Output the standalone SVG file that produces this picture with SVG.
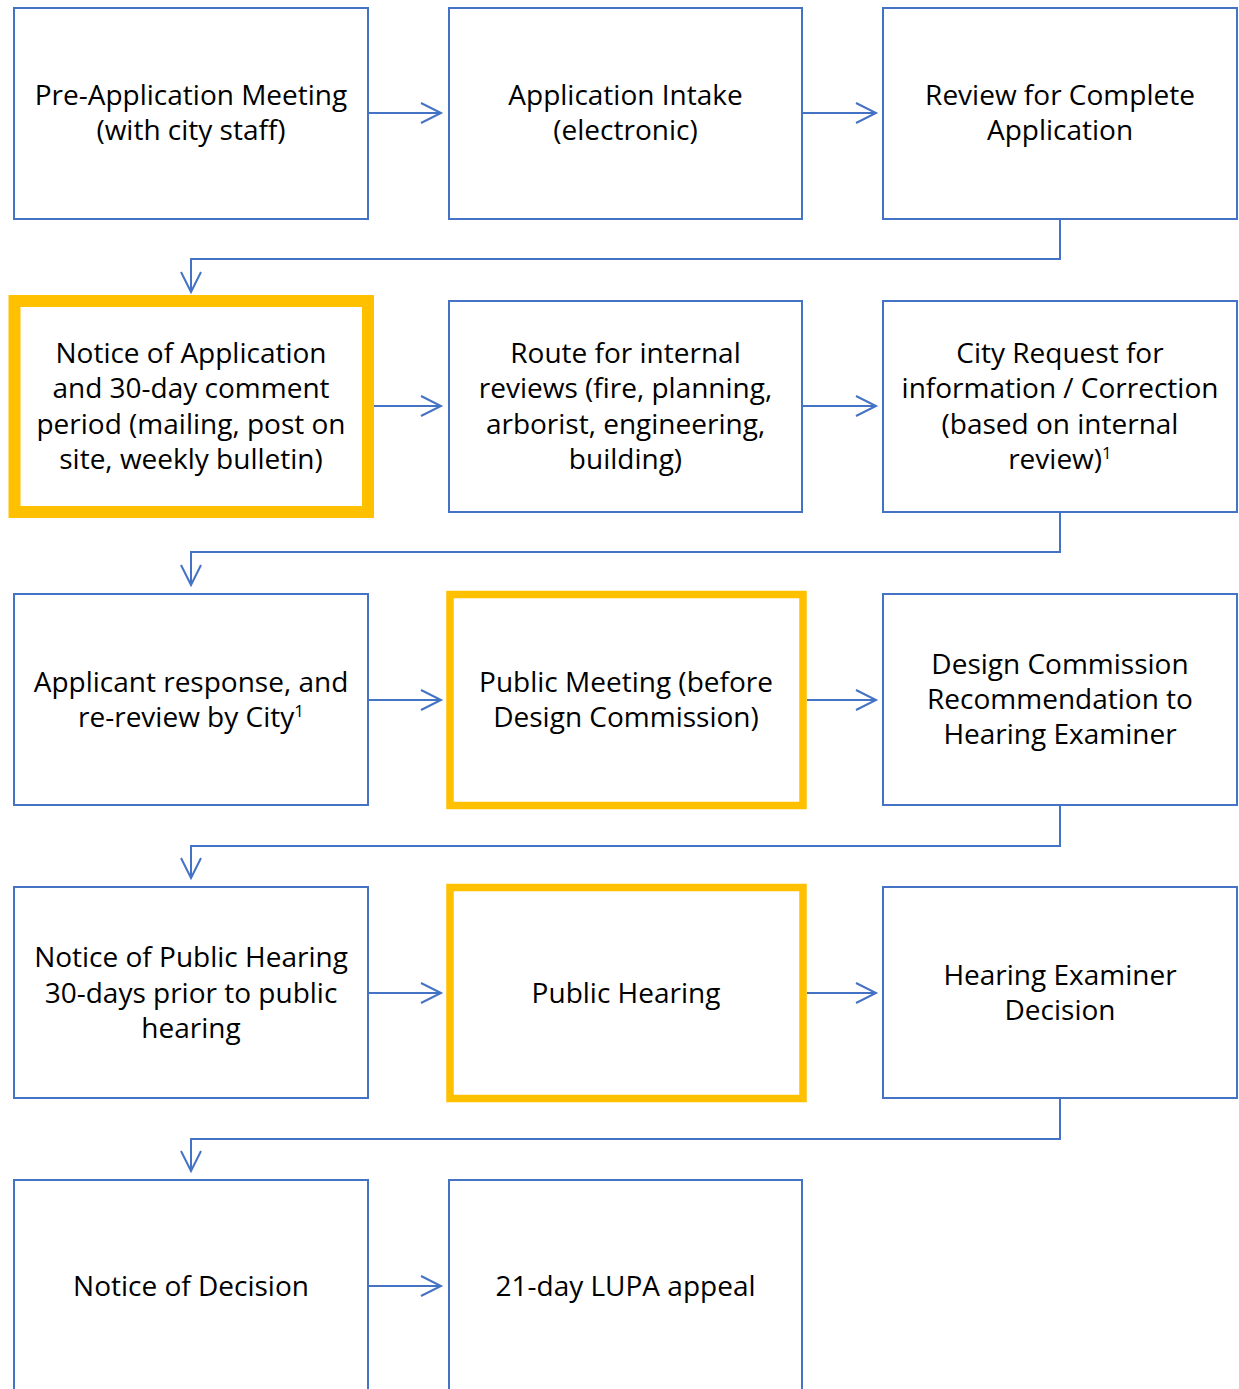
<svg xmlns="http://www.w3.org/2000/svg" width="1239" height="1389" viewBox="0 0 1239 1389">
<style>
.box{fill:#fff;stroke:#4472C4;stroke-width:2}
.hl{fill:#fff;stroke:#FFC000;stroke-width:12}
.hl2{fill:#fff;stroke:#FFC000;stroke-width:7.5}
.conn{fill:none;stroke:#4472C4;stroke-width:2}
text{font-family:"Open Sans","Noto Sans",sans-serif;font-size:28px;fill:#000;text-anchor:middle}
.sup{font-size:17px}
</style>
<defs>
<marker id="ah" viewBox="0 0 20 20" refX="20" refY="10" markerWidth="20" markerHeight="20" markerUnits="userSpaceOnUse" orient="auto" overflow="visible">
<path d="M0,0 L20,10 L0,20" fill="none" stroke="#4472C4" stroke-width="2"/>
</marker>
</defs>
<g id="connectors">
<line class="conn" x1="369" y1="113" x2="441" y2="113" marker-end="url(#ah)"/>
<line class="conn" x1="803" y1="113" x2="876" y2="113" marker-end="url(#ah)"/>
<polyline class="conn" points="1060,220 1060,259 191,259 191,292" marker-end="url(#ah)"/>
<line class="conn" x1="374" y1="406" x2="441" y2="406" marker-end="url(#ah)"/>
<line class="conn" x1="803" y1="406" x2="876" y2="406" marker-end="url(#ah)"/>
<polyline class="conn" points="1060,513 1060,552 191,552 191,585" marker-end="url(#ah)"/>
<line class="conn" x1="369" y1="700" x2="441" y2="700" marker-end="url(#ah)"/>
<line class="conn" x1="807" y1="700" x2="876" y2="700" marker-end="url(#ah)"/>
<polyline class="conn" points="1060,806 1060,846 191,846 191,878" marker-end="url(#ah)"/>
<line class="conn" x1="369" y1="993" x2="441" y2="993" marker-end="url(#ah)"/>
<line class="conn" x1="807" y1="993" x2="876" y2="993" marker-end="url(#ah)"/>
<polyline class="conn" points="1060,1099 1060,1139 191,1139 191,1171" marker-end="url(#ah)"/>
<line class="conn" x1="369" y1="1286" x2="441" y2="1286" marker-end="url(#ah)"/>
</g>
<g id="n1"><rect class="box" x="14" y="8" width="354" height="211"/>
<text x="191" y="105">Pre-Application Meeting</text><text x="191" y="140">(with city staff)</text></g>
<g id="n2"><rect class="box" x="449" y="8" width="353" height="211"/>
<text x="625.5" y="105">Application Intake</text><text x="625.5" y="140">(electronic)</text></g>
<g id="n3"><rect class="box" x="883" y="8" width="354" height="211"/>
<text x="1060" y="105">Review for Complete</text><text x="1060" y="140">Application</text></g>
<g id="n4"><rect class="hl" x="14.5" y="301" width="353.5" height="211"/>
<text x="191" y="363">Notice of Application</text><text x="191" y="398">and 30-day comment</text><text x="191" y="434">period (mailing, post on</text><text x="191" y="469">site, weekly bulletin)</text></g>
<g id="n5"><rect class="box" x="449" y="301" width="353" height="211"/>
<text x="625.5" y="363">Route for internal</text><text x="625.5" y="398">reviews (fire, planning,</text><text x="625.5" y="434">arborist, engineering,</text><text x="625.5" y="469">building)</text></g>
<g id="n6"><rect class="box" x="883" y="301" width="354" height="211"/>
<text x="1060" y="363">City Request for</text><text x="1060" y="398">information / Correction</text><text x="1060" y="434">(based on internal</text><text x="1060" y="469">review)<tspan class="sup" dy="-10">1</tspan></text></g>
<g id="n7"><rect class="box" x="14" y="594" width="354" height="211"/>
<text x="191" y="692">Applicant response, and</text><text x="191" y="727">re-review by City<tspan class="sup" dy="-10">1</tspan></text></g>
<g id="n8"><rect class="hl2" x="450" y="594.5" width="353" height="211"/>
<text x="626" y="692">Public Meeting (before</text><text x="626" y="727">Design Commission)</text></g>
<g id="n9"><rect class="box" x="883" y="594" width="354" height="211"/>
<text x="1060" y="674">Design Commission</text><text x="1060" y="709">Recommendation to</text><text x="1060" y="744">Hearing Examiner</text></g>
<g id="n10"><rect class="box" x="14" y="887" width="354" height="211"/>
<text x="191" y="967">Notice of Public Hearing</text><text x="191" y="1003">30-days prior to public</text><text x="191" y="1038">hearing</text></g>
<g id="n11"><rect class="hl2" x="450" y="887.5" width="353" height="211"/>
<text x="626" y="1003">Public Hearing</text></g>
<g id="n12"><rect class="box" x="883" y="887" width="354" height="211"/>
<text x="1060" y="985">Hearing Examiner</text><text x="1060" y="1020">Decision</text></g>
<g id="n13"><rect class="box" x="14" y="1180" width="354" height="220"/>
<text x="191" y="1296">Notice of Decision</text></g>
<g id="n14"><rect class="box" x="449" y="1180" width="353" height="220"/>
<text x="625.5" y="1296">21-day LUPA appeal</text></g>
</svg>
